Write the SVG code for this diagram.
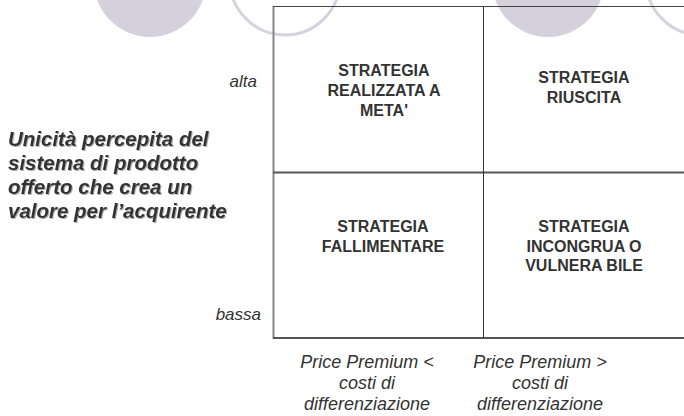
<svg xmlns="http://www.w3.org/2000/svg" width="684" height="416" viewBox="0 0 684 416">
<defs>
<style>
.fill{fill:#d4d0dc}
.ring{fill:none;stroke:#d6d2de;stroke-width:3}
.q{font-family:"Liberation Sans",Arial,sans-serif;font-weight:bold;font-size:16px;fill:#333;text-anchor:middle}
.ax{font-family:"Liberation Sans",Arial,sans-serif;font-style:italic;font-size:17px;fill:#333;text-anchor:end}
.bl{font-family:"Liberation Sans",Arial,sans-serif;font-style:italic;font-size:18px;fill:#333;text-anchor:middle}
.tl{font-family:"Liberation Sans",Arial,sans-serif;font-style:italic;font-weight:bold;font-size:20.5px;fill:#333}
</style>
<filter id="sh" x="-5%" y="-20%" width="110%" height="140%">
<feDropShadow dx="1" dy="1" stdDeviation="0.4" flood-color="#999" flood-opacity="0.8"/>
</filter>
</defs>
<g id="decor">
<circle class="fill" cx="150" cy="-19" r="56"/>
<circle class="ring" cx="285" cy="-20" r="55"/>
<circle class="fill" cx="548" cy="-19" r="56"/>
<circle class="ring" cx="701" cy="-20" r="55"/>
</g>
<g id="grid">
<line x1="273.5" y1="6" x2="273.5" y2="339" stroke="#888" stroke-width="2"/>
<line x1="273" y1="6.5" x2="684" y2="6.5" stroke="#444" stroke-width="1"/>
<line x1="273" y1="172.5" x2="684" y2="172.5" stroke="#555" stroke-width="2"/>
<line x1="273" y1="338" x2="684" y2="338" stroke="#555" stroke-width="2"/>
<line x1="483.5" y1="6" x2="483.5" y2="338" stroke="#333" stroke-width="1"/>
</g>
<g id="q-tl"><text class="q"><tspan x="384" y="76">STRATEGIA</tspan><tspan x="384" y="96">REALIZZATA A</tspan><tspan x="384" y="116">META'</tspan></text></g>
<g id="q-tr"><text class="q"><tspan x="584" y="83">STRATEGIA</tspan><tspan x="584" y="102.5">RIUSCITA</tspan></text></g>
<g id="q-bl"><text class="q"><tspan x="383" y="232">STRATEGIA</tspan><tspan x="383" y="252">FALLIMENTARE</tspan></text></g>
<g id="q-br"><text class="q"><tspan x="584" y="232">STRATEGIA</tspan><tspan x="584" y="252">INCONGRUA O</tspan><tspan x="584" y="271">VULNERA BILE</tspan></text></g>
<g id="axis-y">
<text class="ax" x="257" y="87">alta</text>
<text class="ax" x="261" y="320">bassa</text>
<text class="tl" filter="url(#sh)"><tspan x="8" y="146">Unicità percepita del</tspan><tspan x="8" y="170">sistema di prodotto</tspan><tspan x="8" y="194">offerto che crea un</tspan><tspan x="8" y="218">valore per l’acquirente</tspan></text>
</g>
<g id="axis-x">
<text class="bl"><tspan x="367" y="368">Price Premium &lt;</tspan><tspan x="367" y="389">costi di</tspan><tspan x="367" y="410">differenziazione</tspan></text>
<text class="bl"><tspan x="540" y="368">Price Premium &gt;</tspan><tspan x="540" y="389">costi di</tspan><tspan x="540" y="410">differenziazione</tspan></text>
</g>
<g id="connectors"/>
</svg>
